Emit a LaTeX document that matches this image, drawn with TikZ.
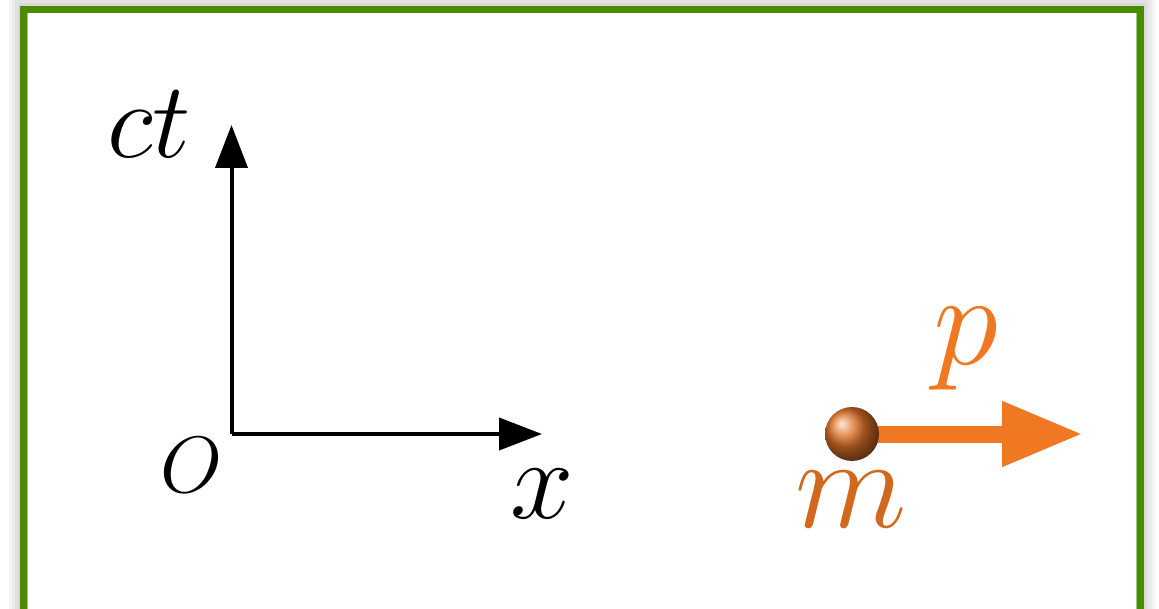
\RequirePackage{fix-cm}
\documentclass[tikz,border=0pt]{standalone}
\usetikzlibrary{arrows.meta}
\pgfdeclarelayer{back}
\pgfdeclarelayer{behind}
\pgfsetlayers{back,behind,main}
\definecolor{framegreen}{RGB}{74,140,0}
\definecolor{porange}{RGB}{240,120,35}
\definecolor{morange}{RGB}{210,104,30}
\definecolor{ballorange}{RGB}{225,115,40}
\tikzset{
  axis/.style={line width=4pt, -{Triangle[length=43pt,width=32pt]}},
  momentum/.style={porange, line width=17pt, -{Triangle[length=81pt,width=61pt]}},
  lbl/.style={anchor=base west, inner sep=0pt, outer sep=0pt},
  frame/.style={draw=framegreen, line width=7pt},
  particle/.style={circle, minimum size=54pt, inner sep=0pt, shading=ball, ball color=ballorange},
}
\begin{document}
\begin{tikzpicture}[x=1pt,y=-1pt]
\useasboundingbox (0,0) rectangle (1159,609);
\begin{pgfonlayer}{back}
% soft shadow around the frame
\foreach \w in {30,24,18,12} {
  \draw[black, opacity=0.04, line width=\w pt] (23.5,9.5) rectangle (1140,614);
}
\fill[white] (27,13) rectangle (1136.5,610.5);
\draw[frame] (23.5,9.5) rectangle (1140,614);
\draw[framegreen!50, line width=1pt] (27.5,13.5) -- (27.5,610);
\draw[framegreen!50, line width=1pt] (1136,13.5) -- (1136,610);
\end{pgfonlayer}

% axes
\coordinate (origin) at (231.5,434);
\coordinate (ctend) at (231.5,125);
\coordinate (xend) at (542,434);
\draw[axis] (origin) -- (ctend);
\draw[axis] (origin) -- (xend);
\node[lbl] (ctlabel) at (107,158) {\fontsize{108}{108}\selectfont$ct$};
\node[lbl] (xlabel) at (510,518) {\fontsize{114}{114}\selectfont$x$};
\node[lbl] (olabel) at (160,492) {\fontsize{80}{80}\selectfont$O$};

% particle
\node[particle] (ball) at (852,434) {};
\coordinate (ptip) at (1083,434);
\begin{pgfonlayer}{behind}
\draw[momentum] (ball.center) -- (ptip);
\end{pgfonlayer}
\node[lbl, text=porange] (plabel) at (933,365) {\fontsize{132}{132}\selectfont$p$};
\node[lbl, text=morange] (mlabel) at (795,527) {\fontsize{130}{130}\selectfont$m$};
\end{tikzpicture}
\end{document}
